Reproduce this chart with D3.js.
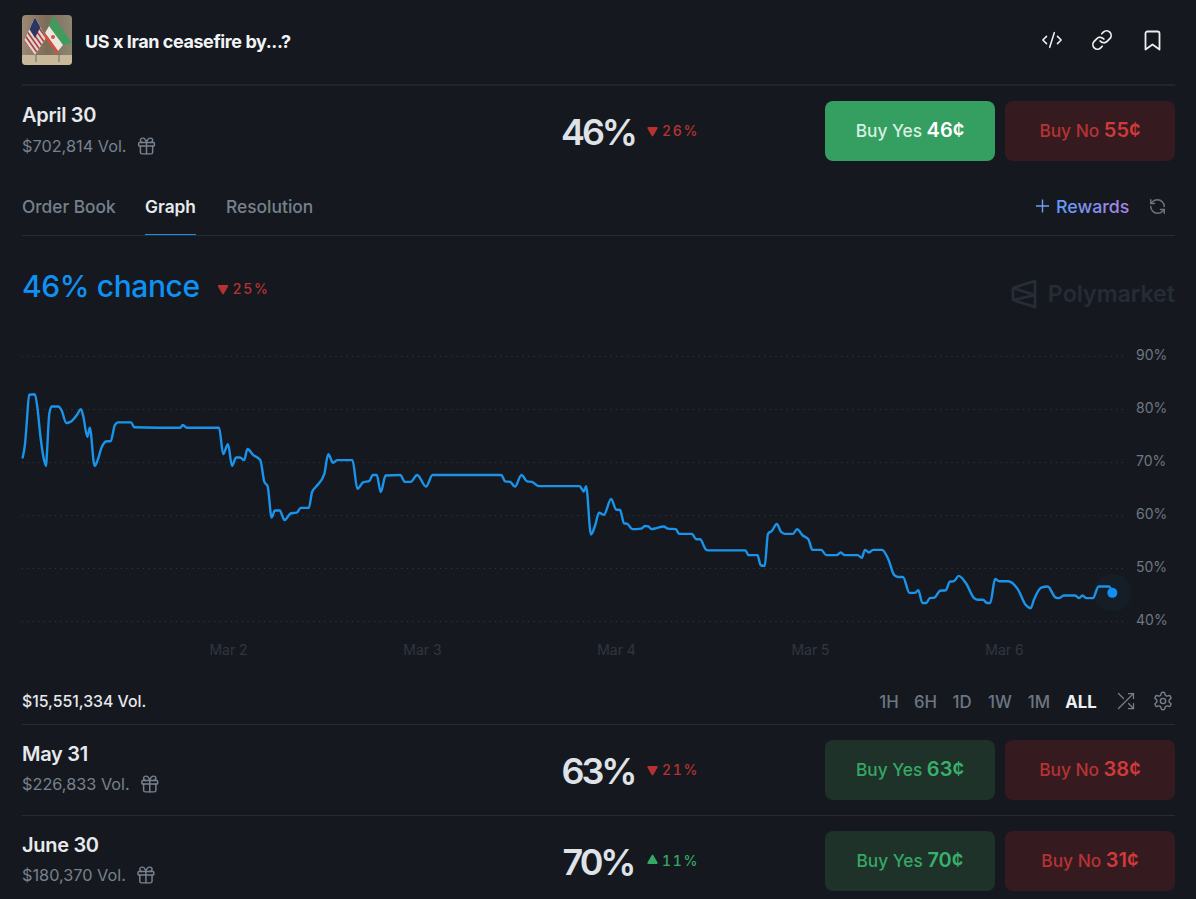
<!DOCTYPE html>
<html>
<head>
<meta charset="utf-8">
<script src="https://cdn.jsdelivr.net/npm/d3@7"></script>
<style>
  html, body { margin: 0; padding: 0; background: #15191f; overflow: hidden; }
  svg { display: block; }
  text { font-family: Inter, "Noto Sans", sans-serif; }
</style>
</head>
<body>
<div id="chart"></div>
<script>
// price history
// hours counted from Feb 28 00:00 UTC
const hours = [
  22.6, 22.9, 23.1, 23.4, 24.1, 24.4, 24.8, 25.2, 25.5, 25.6, 25.9, 26.2, 27.0, 27.4, 28.0, 28.5, 29.3, 29.8, 30.1, 30.6,
  30.9, 31.5, 31.8, 32.4, 32.9, 33.5, 34.0, 34.4, 36.0, 36.4, 42.1, 42.4, 42.9, 46.9, 47.4, 48.0, 48.5, 49.0, 49.5, 50.0,
  50.4, 51.1, 52.0, 52.5, 52.9, 53.4, 53.8, 54.4, 55.0, 55.8, 56.5, 57.0, 58.0, 58.4, 58.9, 59.9, 60.4, 61.0, 61.5, 63.4,
  64.0, 64.7, 65.5, 65.9, 66.4, 66.9, 67.5, 69.3, 69.9, 70.6, 71.4, 72.5, 73.3, 81.8, 82.3, 82.9, 83.5, 84.3, 85.0, 85.6,
  86.4, 91.5, 92.0, 92.3, 92.9, 93.4, 93.9, 94.5, 95.4, 96.0, 96.5, 97.0, 97.4, 98.0, 99.1, 99.6, 100.0, 100.4, 101.0, 101.9,
  102.4, 103.4, 103.8, 105.4, 105.9, 106.4, 107.1, 107.4, 112.0, 112.4, 113.5, 113.9, 114.4, 114.8, 115.3, 115.9, 116.4, 116.9, 117.9, 118.4,
  119.1, 119.8, 120.3, 121.4, 122.0, 123.3, 123.8, 124.3, 125.9, 126.4, 126.8, 127.3, 127.8, 128.9, 129.7, 130.4, 130.9, 131.5, 132.3, 133.0,
  133.4, 133.9, 134.4, 134.8, 135.4, 136.1, 136.8, 137.3, 137.8, 138.4, 139.3, 140.3, 140.8, 141.4, 141.9, 142.3, 142.9, 143.4, 144.5, 145.7,
  146.7, 147.3, 147.7, 148.6, 149.4, 150.4, 150.8, 151.4, 152.8, 153.3, 153.7, 154.2, 155.0, 155.7, 157.0, 157.4
];
const prices = [
  70.8, 73.5, 77.3, 82.6, 82.7, 80.4, 74.7, 70.6, 69.2, 71.6, 79.1, 80.4, 80.4, 79.7, 77.3, 77.5, 78.8, 79.9, 78.5, 74.7,
  76.4, 69.2, 70.0, 72.8, 73.8, 73.9, 76.9, 77.4, 77.4, 76.5, 76.4, 76.9, 76.4, 76.4, 71.4, 73.3, 69.2, 70.8, 70.8, 70.3,
  72.4, 71.3, 70.3, 66.2, 65.4, 59.5, 60.8, 60.8, 59.0, 60.3, 60.4, 61.3, 61.3, 64.3, 65.3, 67.6, 71.4, 69.8, 70.3, 70.3,
  64.9, 66.1, 66.4, 67.5, 67.5, 64.3, 67.4, 67.5, 66.2, 66.2, 67.5, 65.3, 67.5, 67.5, 66.3, 66.2, 65.3, 67.5, 66.3, 66.2,
  65.4, 65.4, 64.4, 65.4, 56.3, 57.9, 60.4, 60.0, 63.0, 61.0, 60.9, 58.4, 58.3, 57.3, 57.4, 57.9, 57.8, 57.3, 57.5, 57.8,
  57.4, 57.3, 56.4, 56.4, 55.4, 55.4, 53.5, 53.3, 53.3, 52.4, 52.4, 50.5, 50.4, 56.4, 57.0, 58.3, 56.8, 56.4, 56.4, 57.3,
  56.1, 55.4, 53.4, 53.4, 52.4, 52.4, 52.9, 52.4, 52.4, 51.9, 53.4, 52.9, 53.4, 53.4, 51.6, 48.7, 48.3, 48.3, 45.3, 45.3,
  45.8, 43.4, 43.4, 44.3, 44.4, 45.7, 45.8, 47.4, 47.5, 48.5, 47.1, 44.3, 44.0, 44.0, 43.4, 43.4, 47.9, 47.5, 47.5, 46.0,
  43.0, 42.4, 44.0, 46.3, 46.5, 44.4, 44.3, 44.8, 44.8, 44.3, 44.8, 44.3, 44.3, 46.5, 46.5, 45.3
];
const yTicks = [40, 50, 60, 70, 80, 90];
const xTickDays = [2, 3, 4, 5, 6];
const rangeLabels = ["1H", "6H", "1D", "1W", "1M", "ALL"];

const rowNames = ["April 30", "May 31", "June 30"];
const rowVols = ["$702,814 Vol.", "$226,833 Vol.", "$180,370 Vol."];
const rowPct = [46, 63, 70];
const rowDelta = [-26, -21, 11];
const rowYes = [46, 63, 70];
const rowNo = [55, 38, 31];

const W = 1196, H = 899;
const BG = "#15191f", RED = "#b83232", GREEN = "#36a866";

const icons = {
  code: ["m18 16 4-4-4-4", "m6 8-4 4 4 4", "m14.5 4-5 16"],
  link: ["M10 13a5 5 0 0 0 7.54.54l3-3a5 5 0 0 0-7.07-7.07l-1.72 1.71", "M14 11a5 5 0 0 0-7.54-.54l-3 3a5 5 0 0 0 7.07 7.07l1.71-1.71"],
  bookmark: ["M19 21l-7-5-7 5V5a2 2 0 0 1 2-2h10a2 2 0 0 1 2 2z"],
  gift: ["M4 8h16a1 1 0 0 1 1 1v2a1 1 0 0 1-1 1H4a1 1 0 0 1-1-1V9a1 1 0 0 1 1-1z", "M12 8v13", "M19 12v7a2 2 0 0 1-2 2H7a2 2 0 0 1-2-2v-7", "M7.5 8a2.5 2.5 0 0 1 0-5A4.8 8 0 0 1 12 8a4.8 8 0 0 1 4.5-5 2.5 2.5 0 0 1 0 5"],
  refresh: ["M21 12a9 9 0 0 0-9-9 9.75 9.75 0 0 0-6.74 2.74L3 8", "M3 3v5h5", "M3 12a9 9 0 0 0 9 9 9.75 9.75 0 0 0 6.74-2.74L21 16", "M16 16h5v5"],
  shuffle: ["M15 3h6v6", "M3 21 21 3", "M21 15v6h-6", "M15 15l6 6", "M3 3l6 6"],
  gear: ["M12.22 2h-.44a2 2 0 0 0-2 2v.18a2 2 0 0 1-1 1.73l-.43.25a2 2 0 0 1-2 0l-.15-.08a2 2 0 0 0-2.73.73l-.22.38a2 2 0 0 0 .73 2.73l.15.1a2 2 0 0 1 1 1.72v.51a2 2 0 0 1-1 1.74l-.15.09a2 2 0 0 0-.73 2.73l.22.38a2 2 0 0 0 2.73.73l.15-.08a2 2 0 0 1 2 0l.43.25a2 2 0 0 1 1 1.73V20a2 2 0 0 0 2 2h.44a2 2 0 0 0 2-2v-.18a2 2 0 0 1 1-1.73l.43-.25a2 2 0 0 1 2 0l.15.08a2 2 0 0 0 2.73-.73l.22-.39a2 2 0 0 0-.73-2.73l-.15-.08a2 2 0 0 1-1-1.74v-.5a2 2 0 0 1 1-1.74l.15-.09a2 2 0 0 0 .73-2.73l-.22-.38a2 2 0 0 0-2.73-.73l-.15.08a2 2 0 0 1-2 0l-.43-.25a2 2 0 0 1-1-1.73V4a2 2 0 0 0-2-2z", "M15 12a3 3 0 1 1-6 0 3 3 0 0 1 6 0z"]
};

const svg = d3.select("#chart").append("svg").attr("width", W).attr("height", H);
svg.append("rect").attr("width", W).attr("height", H).attr("fill", BG);
const defs = svg.append("defs");

function label(x, y, str, size, weight, color, anchor) {
  return svg.append("text")
    .attr("x", x).attr("y", y)
    .attr("font-size", size).attr("font-weight", weight)
    .attr("fill", color).attr("text-anchor", anchor || "start")
    .text(str);
}

function icon(name, cx, cy, size, color, sw) {
  const g = svg.append("g")
    .attr("transform", `translate(${cx - size / 2},${cy - size / 2}) scale(${size / 24})`)
    .attr("fill", "none").attr("stroke", color).attr("stroke-width", sw)
    .attr("stroke-linecap", "round").attr("stroke-linejoin", "round");
  icons[name].forEach(d => g.append("path").attr("d", d));
}

function divider(y, color) {
  svg.append("line").attr("x1", 22).attr("x2", 1175).attr("y1", y).attr("y2", y)
    .attr("stroke", color).attr("stroke-width", 1);
}

function deltaBadge(x, y, delta) {
  const color = delta < 0 ? RED : GREEN;
  svg.append("path")
    .attr("d", d3.symbol(d3.symbolTriangle, 30))
    .attr("transform", `translate(${x},${y}) rotate(${delta < 0 ? 180 : 0})`)
    .attr("fill", color).attr("stroke", color).attr("stroke-width", 2).attr("stroke-linejoin", "round");
  label(x + 9.5, y + 5, `${Math.abs(delta)}%`, 14, 500, color)
    .attr("letter-spacing", 1.7)
    .style("font-variant-numeric", "tabular-nums");
}

function buyButton(x, y, word, price, bg, c1, c2) {
  svg.append("rect").attr("x", x).attr("y", y).attr("width", 170).attr("height", 60).attr("rx", 8).attr("fill", bg);
  const t = label(x + 85, y + 36, "", 17.3, 500, c1, "middle");
  t.append("tspan").text(`Buy ${word} `);
  t.append("tspan").attr("font-size", 20).attr("font-weight", 600).attr("fill", c2).text(`${price}¢`);
}

// thumbnail with the two flags
const thumb = svg.append("g").attr("clip-path", "url(#thumbClip)");
defs.append("clipPath").attr("id", "thumbClip").append("rect")
  .attr("x", 22).attr("y", 15).attr("width", 50).attr("height", 50).attr("rx", 4);
defs.append("clipPath").attr("id", "usClip").append("polygon").attr("points", "35,17 24,41 35,55 46,38");
const wall = defs.append("linearGradient").attr("id", "wall").attr("x1", 0).attr("x2", 1).attr("y1", 0).attr("y2", 0);
wall.append("stop").attr("offset", 0).attr("stop-color", "#9a8a74");
wall.append("stop").attr("offset", 0.5).attr("stop-color", "#7c6c58");
wall.append("stop").attr("offset", 1).attr("stop-color", "#8e8672");
thumb.append("rect").attr("x", 22).attr("y", 15).attr("width", 50).attr("height", 50).attr("fill", "url(#wall)");
thumb.append("rect").attr("x", 22).attr("y", 55).attr("width", 50).attr("height", 10).attr("fill", "#c9b99b");
const usFlag = thumb.append("g").attr("clip-path", "url(#usClip)");
usFlag.append("rect").attr("x", 22).attr("y", 15).attr("width", 30).attr("height", 42).attr("fill", "#dcd6d2");
[0, 1, 2, 3, 4, 5, 6, 7].forEach(i => {
  usFlag.append("line")
    .attr("x1", 22 + i * 2).attr("y1", 38 - i * 4)
    .attr("x2", 44 + i * 2).attr("y2", 69 - i * 4)
    .attr("stroke", "#b03c3c").attr("stroke-width", 1.6);
});
usFlag.append("polygon").attr("points", "35,17 29.5,29 35,38 40.5,27").attr("fill", "#2c3662");
thumb.append("polygon").attr("points", "53,16 72,43 63,45 49,26").attr("fill", "#3f9c5e");
thumb.append("polygon").attr("points", "49,26 63,45 58,51 45,33").attr("fill", "#eee6dc");
thumb.append("polygon").attr("points", "45,33 58,51 58,55 45,38").attr("fill", "#d94c40");
thumb.append("circle").attr("cx", 53).attr("cy", 37).attr("r", 2).attr("fill", "#c45a50");
thumb.append("line").attr("x1", 36).attr("x2", 36).attr("y1", 54).attr("y2", 62).attr("stroke", "#6c6a62").attr("stroke-width", 1);
thumb.append("line").attr("x1", 59).attr("x2", 59).attr("y1", 54).attr("y2", 62).attr("stroke", "#6c6a62").attr("stroke-width", 1);

// header
label(85, 48, "US x Iran ceasefire by...?", 18, 700, "#f1f3f5").attr("letter-spacing", -0.42);
icon("code", 1052, 40, 22, "#eceef0", 1.7);
icon("link", 1102, 40, 22, "#eceef0", 1.9);
icon("bookmark", 1152.5, 40.5, 24, "#eceef0", 1.8);
divider(85, "#2d3440");

// market rows
const rowY = [0, 639, 730];
rowNames.forEach((name, i) => {
  const dy = rowY[i];
  label(22, 122 + dy, name, 20, 600, "#e7e9ec").attr("letter-spacing", -0.3);
  const vol = label(22, (i ? 150.5 : 151.5) + dy, rowVols[i], 16.3, 400, "#78818d");
  const volW = vol.node().getComputedTextLength();
  icon("gift", 22 + volW + 20, 146 + dy - (i ? 1 : 0), 21, "#78818d", 1.7);
  label(598, 144.5 + dy, `${rowPct[i]}%`, 36, 600, "#dfe3e8", "middle").attr("letter-spacing", -3.1);
  deltaBadge(652.5, 130.5 + dy, rowDelta[i]);
  const active = i === 0;
  buyButton(825, 101 + dy, "Yes", rowYes[i], active ? "#349f60" : "#1e3229",
    active ? "#d9f0e2" : "#36a866", active ? "#ffffff" : "#38b06c");
  buyButton(1005, 101 + dy, "No", rowNo[i], "#351b20", "#b83232", "#d03a3a");
});

// tabs
label(22, 213, "Order Book", 17.3, 500, "#77818d");
label(145, 213, "Graph", 17.3, 600, "#e9ebee");
label(226, 213, "Resolution", 17.4, 500, "#77818d");
svg.append("rect").attr("x", 145).attr("y", 234).attr("width", 51).attr("height", 2).attr("fill", "#1a8fe0");
divider(235.5, "#262c35");
const rewardsGrad = defs.append("linearGradient").attr("id", "rewards");
rewardsGrad.append("stop").attr("offset", 0).attr("stop-color", "#5f9bf5");
rewardsGrad.append("stop").attr("offset", 1).attr("stop-color", "#a884e4");
label(1056, 213, "Rewards", 17.8, 500, "url(#rewards)");
svg.append("path").attr("d", "M1036 206H1049M1042.5 199.5V212.5").attr("stroke", "#6f9df2").attr("stroke-width", 1.4).attr("fill", "none");
icon("refresh", 1157.5, 206.5, 18, "#6c7480", 2);

// chance headline
label(22, 297, "46% chance", 30, 500, "#1090f2").attr("letter-spacing", -0.4);
deltaBadge(223, 288.5, -25);

// watermark
const mark = svg.append("g").attr("fill", "none").attr("stroke", "#262d37").attr("stroke-width", 2.8).attr("stroke-linejoin", "round");
mark.append("path").attr("d", "M1035 281 V307 L1013 300 V288 Z M1013 288 L1035 295 L1013 300");
label(1175, 302, "Polymarket", 23.2, 600, "#252c36", "end");

// chart
const x = d3.scaleUtc()
  .domain([new Date(Date.UTC(2026, 2, 2)), new Date(Date.UTC(2026, 2, 6))])
  .range([228, 1004]);
const y = d3.scaleLinear().domain([40, 90]).range([621, 355.5]);
const t0 = Date.UTC(2026, 1, 28);
const series = hours.map((h, i) => ({ t: new Date(t0 + h * 3600e3), v: prices[i] }));

svg.append("g").selectAll("line").data(yTicks).join("line")
  .attr("x1", 22).attr("x2", 1124)
  .attr("y1", d => Math.round(y(d)) + 0.5).attr("y2", d => Math.round(y(d)) + 0.5)
  .attr("stroke", "#353c46").attr("stroke-width", 1).attr("stroke-dasharray", "1 4.5");

const yAxis = svg.append("g").attr("transform", "translate(1136,0)")
  .call(d3.axisRight(y).tickValues(yTicks).tickSize(0).tickPadding(0).tickFormat(d => d + "%"));
yAxis.select(".domain").remove();
yAxis.selectAll("text").attr("font-size", 14).attr("fill", "#6f7782").attr("dy", "0.27em")
  .style("font-family", "Inter, sans-serif");

const xAxis = svg.append("g").attr("transform", "translate(0,645)")
  .call(d3.axisBottom(x)
    .tickValues(xTickDays.map(d => new Date(Date.UTC(2026, 2, d))))
    .tickSize(0).tickPadding(0)
    .tickFormat(d3.utcFormat("Mar %-d")));
xAxis.select(".domain").remove();
xAxis.selectAll("text").attr("font-size", 14).attr("fill", "#2f3641")
  .style("font-family", "Inter, sans-serif");

const line = d3.line().x(d => x(d.t)).y(d => y(d.v)).curve(d3.curveMonotoneX);
svg.append("path").datum(series).attr("d", line)
  .attr("fill", "none").attr("stroke", "#1a94ea").attr("stroke-width", 2.4)
  .attr("stroke-linejoin", "round").attr("stroke-linecap", "round");

const last = series[series.length - 1];
svg.append("circle").attr("cx", x(last.t)).attr("cy", y(last.v)).attr("r", 19).attr("fill", "#1090f2").attr("opacity", 0.045);
svg.append("circle").attr("cx", x(last.t)).attr("cy", y(last.v)).attr("r", 5).attr("fill", "#1090f2");

// footer of the chart
label(22, 707, "$15,551,334 Vol.", 15.8, 500, "#e6e8eb");
const rangeX = [889, 925.5, 962, 1000, 1039, 1081];
rangeLabels.forEach((r, i) => {
  const on = r === "ALL";
  label(rangeX[i], 707.5, r, 16.8, on ? 700 : 500, on ? "#eef0f2" : "#6c7682", "middle");
});
icon("shuffle", 1126, 701, 20, "#78808b", 1.5);
icon("gear", 1163, 701, 21, "#78808b", 1.6);
divider(724.5, "#262c35");
divider(815.5, "#262c35");
</script>
</body>
</html>
